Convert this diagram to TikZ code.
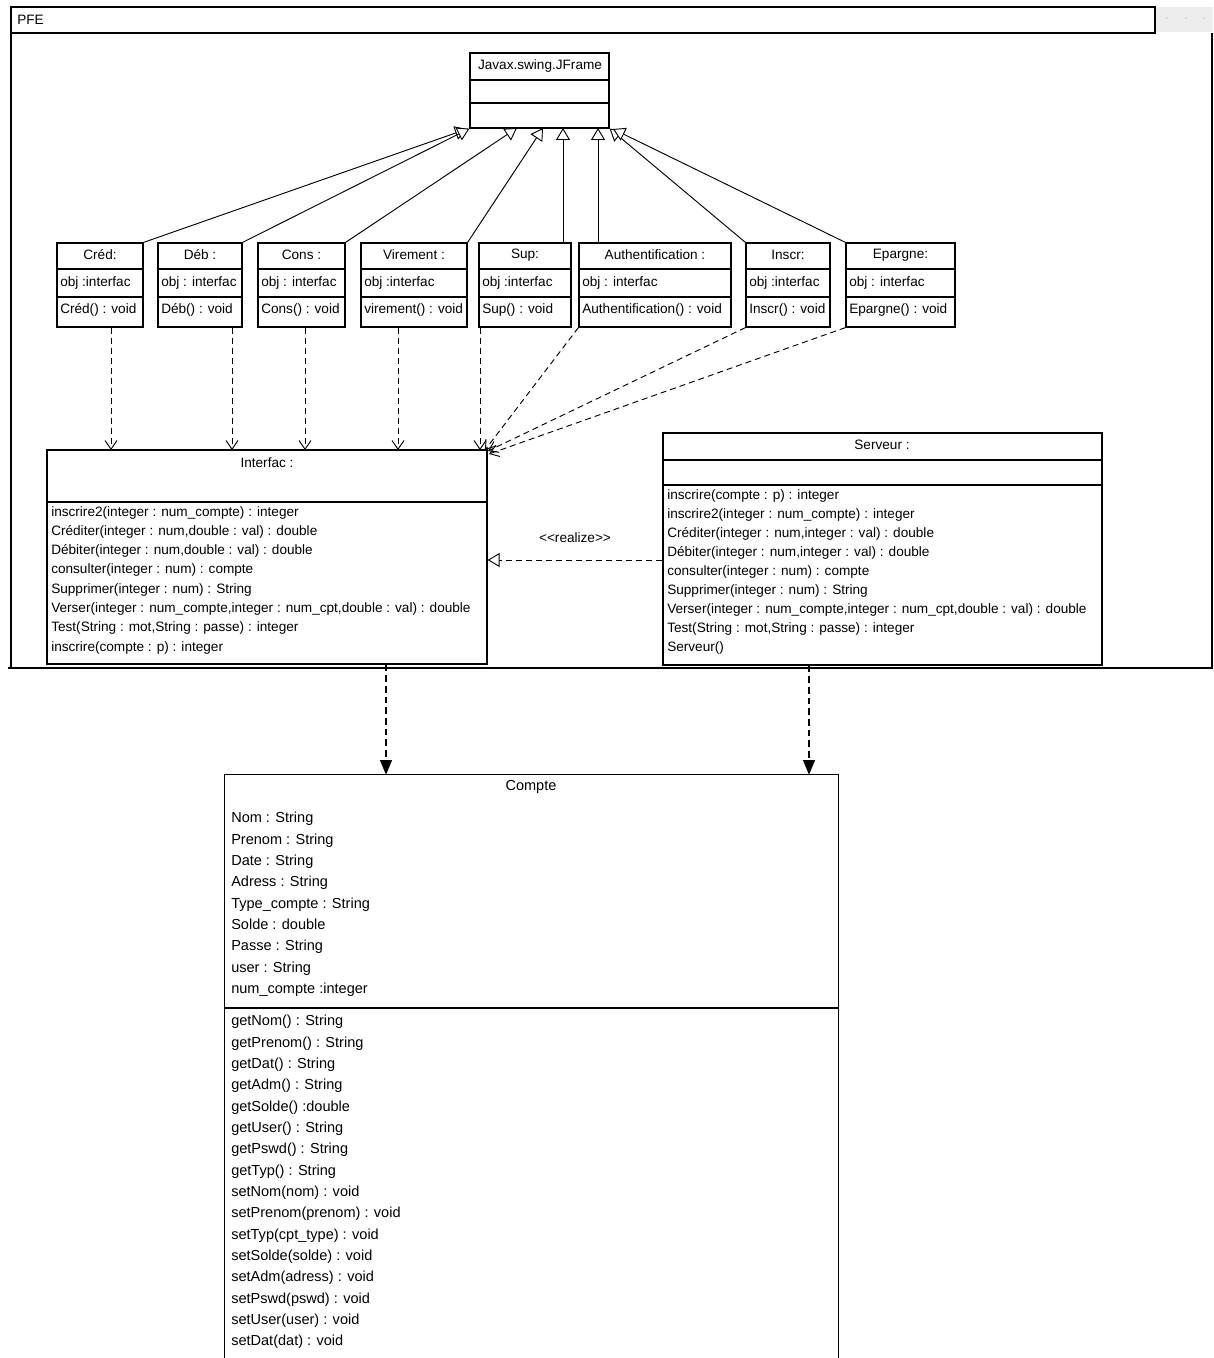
\documentclass[tikz,border=0pt]{standalone}
\usepackage{fontspec}
\setmainfont{Liberation Sans}
\usetikzlibrary{arrows.meta,fit}
\begin{document}
\begin{tikzpicture}[x=0.75pt,y=-0.75pt,
  box/.style={draw=black,line width=0.9pt,inner sep=0pt,fit={#1}},
  sep/.style={line width=0.9pt},
  txt/.style={font=\fontsize{10.2}{12}\selectfont,inner sep=0pt},
  gen/.style={line width=0.7pt,-{Triangle[open,length=9pt,width=10.5pt,fill=white]}},
  dep/.style={line width=0.7pt,dash pattern=on 4.5pt off 3pt,-{Straight Barb[length=6.5pt,width=9pt]}},
  real/.style={line width=0.7pt,dash pattern=on 4.5pt off 3pt,-{Triangle[open,length=9pt,width=10.5pt,fill=white]}},
  assoc/.style={line width=0.9pt,dash pattern=on 5pt off 3pt,-{Triangle[length=11pt,width=9pt]}}]
\useasboundingbox (0,0) rectangle (1213,1358);

% ---- package frame
\node[box={(11,7) (1155,33)}] (tab) {};
\node[txt,anchor=west] (pfe) at (17,20) {PFE};
\fill[black!7] (1156,7) rectangle (1213,32.5);
\foreach \dx in {1167,1186,1204} \fill[black!35] (\dx,18) circle (0.7);
\draw[sep] (11,33) -- (11,668);
\draw[sep] (1212,33) -- (1212,668);
\draw[line width=1.5pt] (8,668) -- (1213,668);

% ---- JFrame
\node[box={(470,53) (609,128)}] (jf) {};
\draw[sep] (470,80) -- (609,80);
\draw[sep] (470,103) -- (609,103);
\node[txt] (jft) at (540,66) {Javax.swing.JFrame};

% ---- small classes
\foreach \n/\a/\b/\t/\o/\m in {
  cred/57/143/{Créd:}/{obj :interfac}/{Créd() : void},
  deb/158/242/{Déb :}/{obj : interfac}/{Déb() : void},
  cons/258/345/{Cons :}/{obj : interfac}/{Cons() : void},
  vir/361/467/{Virement :}/{obj :interfac}/{virement() : void},
  sup/479/571/{Sup:}/{obj :interfac}/{Sup() : void},
  auth/579/731/{Authentification :}/{obj : interfac}/{Authentification() : void},
  inscr/746/830/{Inscr:}/{obj :interfac}/{Inscr() : void},
  epar/846/955/{Epargne:}/{obj : interfac}/{Epargne() : void}}{
  \node[box={(\a,243) (\b,327)}] (\n) {};
  \draw[sep] (\a,269) -- (\b,269);
  \draw[sep] (\a,297) -- (\b,297);
  \node[txt] (\n-t) at ({(\a+\b)/2},255) {\t};
  \node[txt,anchor=west] (\n-o) at (\a+3,283) {\o};
  \node[txt,anchor=west] (\n-m) at (\a+3,310) {\m};
}

% ---- Interfac
\node[box={(47,450) (487,664)}] (interf) {};
\draw[sep] (47,502) -- (487,502);
\node[txt] (interf-t) at (267,463) {Interfac :};
\node[txt,anchor=west,align=left,font=\fontsize{10.2}{14.46}\selectfont] (interf-m) at (51,580) {%
inscrire2(integer : num\_compte) : integer\\
Créditer(integer : num,double : val) : double\\
Débiter(integer : num,double : val) : double\\
consulter(integer : num) : compte\\
Supprimer(integer : num) : String\\
Verser(integer : num\_compte,integer : num\_cpt,double : val) : double\\
Test(String : mot,String : passe) : integer\\
inscrire(compte : p) : integer};

% ---- Serveur
\node[box={(663,433) (1102,665)}] (serv) {};
\draw[sep] (663,460) -- (1102,460);
\draw[sep] (663,485) -- (1102,485);
\node[txt] (serv-t) at (882,445) {Serveur :};
\node[txt,anchor=west,align=left,font=\fontsize{10.2}{14.3}\selectfont] (serv-m) at (667,572) {%
inscrire(compte : p) : integer\\
inscrire2(integer : num\_compte) : integer\\
Créditer(integer : num,integer : val) : double\\
Débiter(integer : num,integer : val) : double\\
consulter(integer : num) : compte\\
Supprimer(integer : num) : String\\
Verser(integer : num\_compte,integer : num\_cpt,double : val) : double\\
Test(String : mot,String : passe) : integer\\
Serveur()};

% ---- Compte
\node[inner sep=0pt,fit={(225,775) (838,1358)}] (compte) {};
\draw[sep] (compte.south west) -- (compte.north west) -- (compte.north east) -- (compte.south east);
\draw[sep] (225,1008) -- (838,1008);
\node[txt,font=\fontsize{10.9}{12}\selectfont] (compte-t) at (531,787) {Compte};
\node[txt,anchor=west,align=left,font=\fontsize{10.9}{16}\selectfont] (compte-a) at (231,904.5) {%
Nom : String\\
Prenom : String\\
Date : String\\
Adress : String\\
Type\_compte : String\\
Solde : double\\
Passe : String\\
user : String\\
num\_compte :integer};
\node[txt,anchor=west,align=left,font=\fontsize{10.9}{16}\selectfont] (compte-m) at (231,1182) {%
getNom() : String\\
getPrenom() : String\\
getDat() : String\\
getAdm() : String\\
getSolde() :double\\
getUser() : String\\
getPswd() : String\\
getTyp() : String\\
setNom(nom) : void\\
setPrenom(prenom) : void\\
setTyp(cpt\_type) : void\\
setSolde(solde) : void\\
setAdm(adress) : void\\
setPswd(pswd) : void\\
setUser(user) : void\\
setDat(dat) : void};

% ---- generalization to JFrame
\coordinate (g1) at (467,129);
\coordinate (g3) at (517,128);
\coordinate (g4) at (543,128);
\coordinate (g5) at (563,128);
\coordinate (g6) at (598,128);
\coordinate (g8) at (613,129);
\draw[gen] (cred.north east) -- (g1);
\draw[gen] (deb.north east) -- (jf.south west);
\draw[gen] (cons.north east) -- (g3);
\draw[gen] (vir.north east) -- (g4);
\draw[gen] (sup.north -| g5) -- (g5);
\draw[gen] (auth.north -| g6) -- (g6);
\draw[gen] (inscr.north west) -- (jf.south east);
\draw[gen] (epar.north west) -- (g8);

% ---- dependencies to Interfac
\coordinate (d1) at (111,450);
\coordinate (d2) at (232,450);
\coordinate (d3) at (305,450);
\coordinate (d4) at (398,450);
\coordinate (d5) at (480,450);
\coordinate (d6) at (485,450);
\coordinate (d7) at (488,451);
\coordinate (d8) at (489,454);
\draw[dep] (cred.south -| d1) -- (d1);
\draw[dep] (deb.south -| d2) -- (d2);
\draw[dep] (cons.south -| d3) -- (d3);
\draw[dep] (vir.south -| d4) -- (d4);
\draw[dep] (sup.south -| d5) -- (d5);
\draw[dep] (auth.south west) -- (d6);
\draw[dep] (inscr.south west) -- (d7);
\draw[dep] (epar.south west) -- (d8);

% ---- realization
\coordinate (ry) at (0,560);
\draw[real] (serv.west |- ry) -- (interf.east |- ry);
\node[txt] (reallbl) at (575,538) {<{}<realize>{}>};

% ---- to Compte
\coordinate (c1) at (386,0);
\coordinate (c2) at (809,0);
\draw[assoc] (interf.south -| c1) -- (compte.north -| c1);
\draw[assoc] (serv.south -| c2) -- (compte.north -| c2);
\end{tikzpicture}
\end{document}
